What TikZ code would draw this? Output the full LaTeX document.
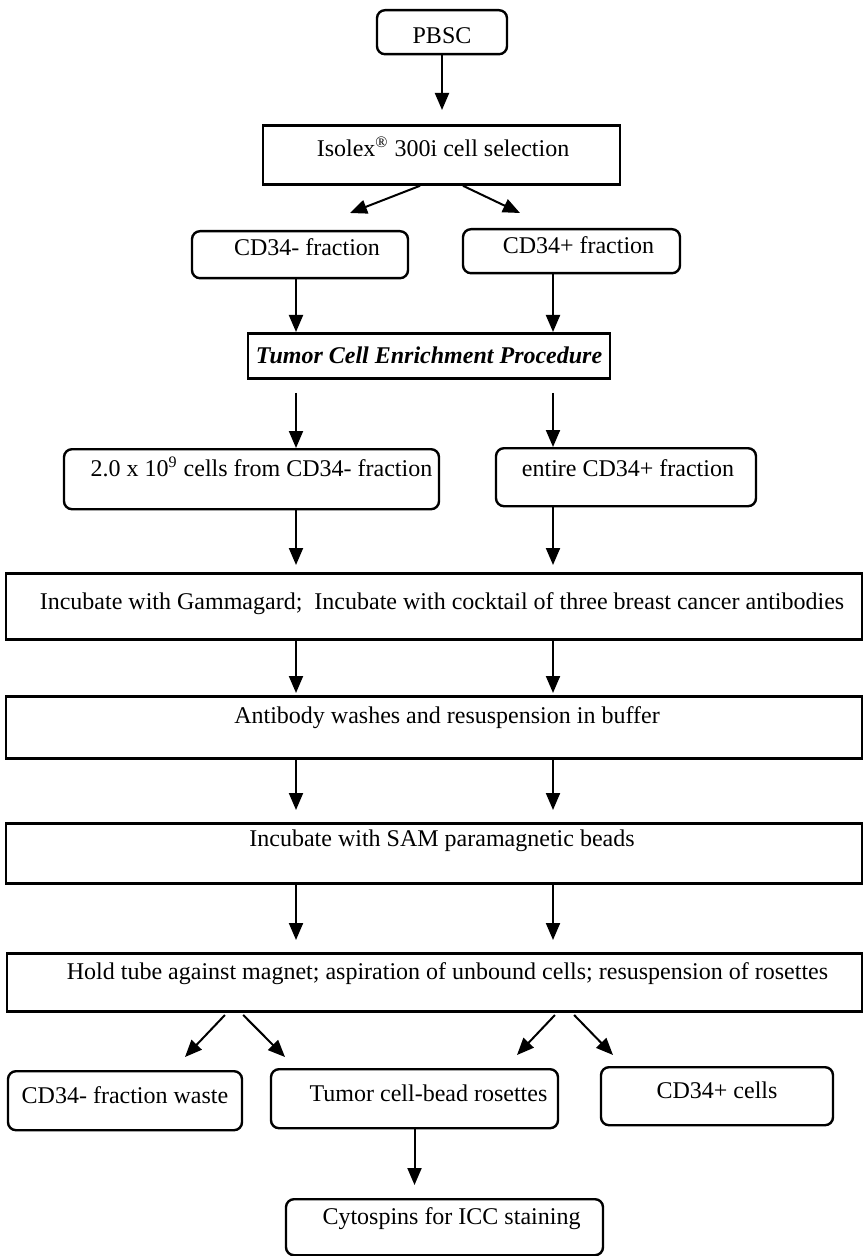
\documentclass[tikz,border=0pt]{standalone}
\usepackage{fontspec}
\setmainfont{Liberation Serif}
\usetikzlibrary{arrows.meta,calc}

\begin{document}
\begin{tikzpicture}[x=0.5pt,y=-0.5pt,line width=1pt,>={Triangle[width=7pt,length=8.5pt]},
	every node/.style={font=\fontsize{12}{14}\selectfont, inner xsep=0pt, inner ysep=0pt, anchor=north},
	sqbox/.style={draw, line width=1.4pt},
	rbox/.style={draw, line width=1.2pt, rounded corners=4pt}]
	\useasboundingbox (0,0) rectangle (864,1256);
	\coordinate (colL) at (296,0);
	\coordinate (colR) at (553,0);
	\node[rbox, minimum width=65pt, text height=16.5pt, text depth=5.5pt] (pbsc) at (442,9) {PBSC};
	\node[sqbox, minimum width=178.5pt, text height=15.5pt, text depth=14pt] (iso) at (441.5,124) {\hspace*{1.5pt}Isolex\textsuperscript{\textregistered} 300i cell selection};
	\node[rbox, minimum width=108pt, text height=12pt, text depth=11.5pt] (cdm) at (300,230) {\hspace*{7pt}CD34- fraction};
	\node[rbox, minimum width=108.5pt, text height=12pt, text depth=10pt] (cdp) at (571.5,228) {\hspace*{7pt}CD34+ fraction};
	\node[sqbox, minimum width=181pt, text height=15pt, text depth=7.5pt] (tce) at (429,332) {\textbf{\textit{Tumor Cell Enrichment Procedure}}};
	\node[rbox, minimum width=187.5pt, text height=13.5pt, text depth=16.5pt] (twob) at (251.5,448) {\hspace*{10pt}2.0 x 10\textsuperscript{9} cells from CD34- fraction};
	\node[rbox, minimum width=130pt, text height=14pt, text depth=15pt] (ent) at (626,447) {\hspace*{2pt}entire CD34+ fraction};
	\node[sqbox, minimum width=428pt, text height=18pt, text depth=15pt] (gam) at (434,572) {\hspace*{8pt}Incubate with Gammagard;\ \ Incubate with cocktail of three breast cancer antibodies};
	\node[sqbox, minimum width=428pt, text height=13.5pt, text depth=17.5pt] (abw) at (434,695) {\hspace*{13pt}Antibody washes and resuspension in buffer};
	\node[sqbox, minimum width=428pt, text height=11.5pt, text depth=18.5pt] (sam) at (434,822) {\hspace*{8pt}Incubate with SAM paramagnetic beads};
	\node[sqbox, minimum width=427.5pt, text height=13pt, text depth=16pt] (hold) at (434.5,952) {\hspace*{13pt}Hold tube against magnet; aspiration of unbound cells; resuspension of rosettes};
	\node[rbox, minimum width=117pt, text height=16pt, text depth=13.5pt] (waste) at (125,1070) {CD34- fraction waste};
	\node[rbox, minimum width=143.5pt, text height=16pt, text depth=13.5pt] (ros) at (414.5,1068) {\hspace*{14pt}Tumor cell-bead rosettes};
	\node[rbox, minimum width=116pt, text height=15.5pt, text depth=13.5pt] (cdc) at (717,1066) {CD34+ cells};
	\node[rbox, minimum width=158.5pt, text height=12.5pt, text depth=15.5pt] (cyto) at (444.5,1198) {\hspace*{7pt}Cytospins for ICC staining};
	\coordinate (tipA) at (350,213);
	\coordinate (tipB) at (520,213);
	\coordinate (tipC) at (185,1057);
	\coordinate (tipD) at (285,1057);
	\coordinate (tipE) at (517,1055);
	\coordinate (tipF) at (613,1055);
	\draw[->, shorten >=7pt] (pbsc.south) -- (pbsc.south |- iso.north);
	\draw[->] ([xshift=-10.75pt]iso.south) -- (tipA);
	\draw[->] ([xshift=10.75pt]iso.south) -- (tipB);
	\draw[->] (cdm.south -| colL) -- (tce.north -| colL);
	\draw[->] (cdp.south -| colR) -- (tce.north -| colR);
	\draw[->, shorten <=6.5pt] (tce.south -| colL) -- (twob.north -| colL);
	\draw[->, shorten <=6.5pt] (tce.south -| colR) -- (ent.north -| colR);
	\draw[->, shorten >=3.5pt] (twob.south -| colL) -- (gam.north -| colL);
	\draw[->, shorten >=3.5pt] (ent.south -| colR) -- (gam.north -| colR);
	\draw[->, shorten >=1pt] (gam.south -| colL) -- (abw.north -| colL);
	\draw[->, shorten >=1pt] (gam.south -| colR) -- (abw.north -| colR);
	\draw[->, shorten >=6pt] (abw.south -| colL) -- (sam.north -| colL);
	\draw[->, shorten >=6pt] (abw.south -| colR) -- (sam.north -| colR);
	\draw[->, shorten >=6pt] (sam.south -| colL) -- (hold.north -| colL);
	\draw[->, shorten >=6pt] (sam.south -| colR) -- (hold.north -| colR);
	\draw[->, shorten <=1.5pt] ([xshift=-103.75pt]hold.south) -- (tipC);
	\draw[->, shorten <=1.5pt] ([xshift=-96.75pt]hold.south) -- (tipD);
	\draw[->, shorten <=1.5pt] ([xshift=61.25pt]hold.south) -- (tipE);
	\draw[->, shorten <=1.5pt] ([xshift=68.75pt]hold.south) -- (tipF);
	\draw[->, shorten >=6.5pt] (ros.south) -- (ros.south |- cyto.north);
\end{tikzpicture}
\end{document}
